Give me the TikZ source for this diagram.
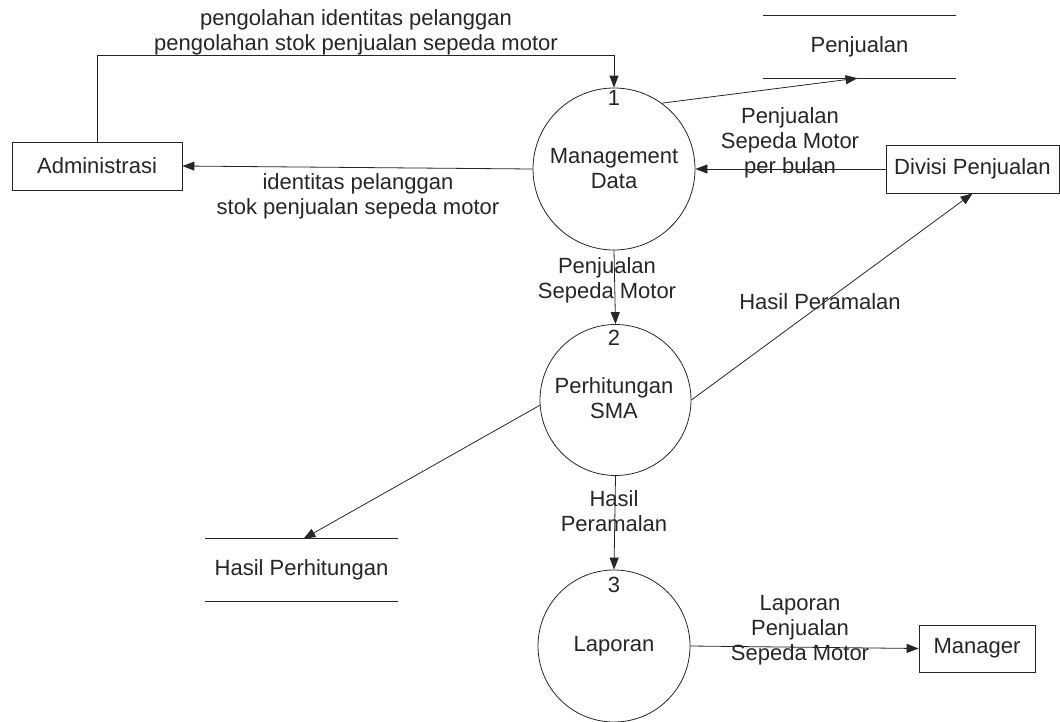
\documentclass[tikz,border=0pt]{standalone}
\usepackage{fontspec}
\setmainfont{Liberation Sans}
\usetikzlibrary{arrows.meta,calc}
\definecolor{ink}{HTML}{262626}
\begin{document}
\begin{tikzpicture}[x=1pt,y=-1pt,
  every node/.style={font=\fontsize{22}{25}\selectfont, text=ink, align=center, inner sep=0pt},
  process/.style={draw=ink, circle, line width=0.8pt},
  entity/.style={draw=ink, rectangle, line width=0.8pt},
  store/.style={rectangle, minimum width=193pt, minimum height=62pt},
  storeline/.style={draw=ink, line width=0.9pt},
  flow/.style={draw=ink, line width=0.8pt, -{Triangle[length=12pt,width=9pt]}},
]
\useasboundingbox (0,0) rectangle (1060,721);

% processes
\node[process, minimum size=162pt] (p1) at (614,169) {};
\node[process, minimum size=151pt] (p2) at (615.5,400) {};
\node[process, minimum size=152pt] (p3) at (614,646) {};
\node (t1) at (614,169) {Management\\Data};
\node (t2) at (614,398) {Perhitungan\\SMA};
\node (t3) at (614,646) {Laporan};
\node (n1) at (614,98) {1};
\node (n2) at (614,338) {2};
\node (n3) at (614,585) {3};

% external entities
\node[entity, minimum width=170pt, minimum height=48pt] (adm) at (97,166) {Administrasi};
\node[entity, minimum width=173pt, minimum height=48pt] (div) at (972.5,169) {Divisi Penjualan};
\node[entity, minimum width=116pt, minimum height=47pt] (mgr) at (977,648.5) {Manager};

% data stores
\node[store] (penj) at (859.5,47) {Penjualan};
\draw[storeline] (penj.north west) -- (penj.north east);
\draw[storeline] (penj.south west) -- (penj.south east);
\node[store] (hp) at (301.5,570) {Hasil Perhitungan};
\draw[storeline] (hp.north west) -- (hp.north east);
\draw[storeline] (hp.south west) -- (hp.south east);

\coordinate (topY) at (0,55);
\coordinate (penjIn) at ($(penj.south west)!0.49!(penj.south east)$);
\coordinate (hpIn) at ($(hp.north west)!0.51!(hp.north east)$);

% data flows
\draw[flow] (adm.north) |- (p1.north |- topY) -- (p1.north);
\draw[flow] (p1.west) -- (adm.east);
\draw[flow] (p1.54) -- (penjIn);
\draw[flow] (div.west) -- (p1.east);
\draw[flow] (p2.east) -- (div.south);
\draw[flow] (p1.south) -- (p2.north);
\draw[flow] (p2.184) -- (hpIn);
\draw[flow] (p2.south) -- (p3.north);
\draw[flow] (p3.east) -- (mgr.west);

% flow labels
\node (l1) at (356,32) {pengolahan identitas pelanggan\\pengolahan stok penjualan sepeda motor};
\node (l2) at (358,196) {identitas pelanggan\\stok penjualan sepeda motor};
\node (l3) at (790,143) {Penjualan\\Sepeda Motor\\per bulan};
\node (l4) at (820,302) {Hasil Peramalan};
\node (l5) at (607,280) {Penjualan\\Sepeda Motor};
\node (l6) at (614,511) {Hasil\\Peramalan};
\node (l7) at (800,630) {Laporan\\Penjualan\\Sepeda Motor};
\end{tikzpicture}
\end{document}
